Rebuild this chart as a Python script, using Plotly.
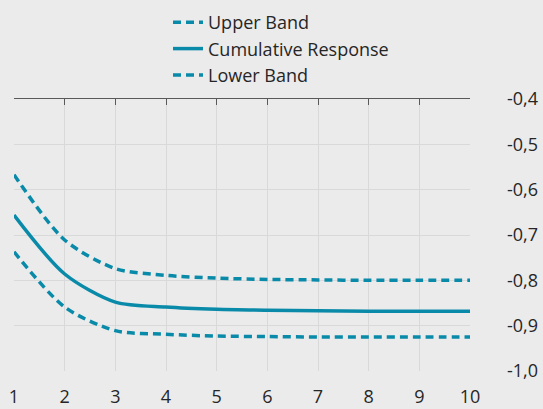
import plotly.graph_objects as go

periods = [1, 2, 3, 4, 5, 6, 7, 8, 9, 10]
upper_band = [-0.567, -0.711, -0.774, -0.789, -0.795, -0.798, -0.799, -0.800, -0.800, -0.800]
cumulative = [-0.656, -0.786, -0.848, -0.859, -0.864, -0.866, -0.867, -0.868, -0.868, -0.868]
lower_band = [-0.737, -0.859, -0.911, -0.919, -0.923, -0.924, -0.925, -0.925, -0.925, -0.925]
y_ticks = [-0.4, -0.5, -0.6, -0.7, -0.8, -0.9, -1.0]
y_tick_labels = [f"{v:.1f}".replace(".", ",") for v in y_ticks]

color = "#0a8aa9"
font_family = "Open Sans, Noto Sans, sans-serif"

fig = go.Figure()
fig.add_trace(go.Scatter(x=periods, y=upper_band, name="Upper Band", mode="lines",
                         line=dict(color=color, width=3.5, dash="8px,5px", shape="spline", smoothing=0.8)))
fig.add_trace(go.Scatter(x=periods, y=cumulative, name="Cumulative Response", mode="lines",
                         line=dict(color=color, width=3.5, shape="spline", smoothing=0.8)))
fig.add_trace(go.Scatter(x=periods, y=lower_band, name="Lower Band", mode="lines",
                         line=dict(color=color, width=3.5, dash="8px,5px", shape="spline", smoothing=0.8)))
# invisible trace to anchor the top axis
fig.add_trace(go.Scatter(x=periods, y=cumulative, xaxis="x2", mode="lines",
                         line=dict(width=0), showlegend=False, hoverinfo="skip", opacity=0))

bg = "#ebebeb"
grid = "#d9d9d9"
fig.update_layout(
    width=543, height=409,
    paper_bgcolor=bg, plot_bgcolor=bg,
    margin=dict(l=14, r=73, t=99, b=38, autoexpand=False),
    font=dict(family=font_family, size=18, color="#262626"),
    showlegend=True,
    legend=dict(xref="container", yref="container", x=168 / 543, y=1 - 4 / 409,
                xanchor="left", yanchor="top",
                bgcolor="rgba(0,0,0,0)", font=dict(size=18, color="#262626"),
                tracegroupgap=0, itemwidth=30),
    xaxis=dict(range=[1, 10], tickvals=periods, showgrid=True, gridcolor=grid, gridwidth=1,
               zeroline=False, showline=False, ticks="", ticklabelstandoff=13, automargin=False,
               tickfont=dict(size=18, color="#262626")),
    xaxis2=dict(range=[1, 10], overlaying="x", side="top", tickvals=periods,
                showticklabels=False, showgrid=False, zeroline=False, automargin=False,
                showline=True, linecolor="#595959", linewidth=1,
                ticks="inside", ticklen=6, tickcolor="#595959", tickwidth=1),
    yaxis=dict(range=[-1.0, -0.4], tickvals=y_ticks, ticktext=y_tick_labels, side="right",
               showgrid=True, gridcolor=grid, gridwidth=1, zeroline=False, showline=False,
               ticks="", ticklabelstandoff=36, automargin=False,
               tickfont=dict(size=18, color="#262626")),
)
fig.write_html("out.html", config={"displayModeBar": False},
               post_script="document.body.style.margin='0px';document.body.style.background='#ebebeb';")
